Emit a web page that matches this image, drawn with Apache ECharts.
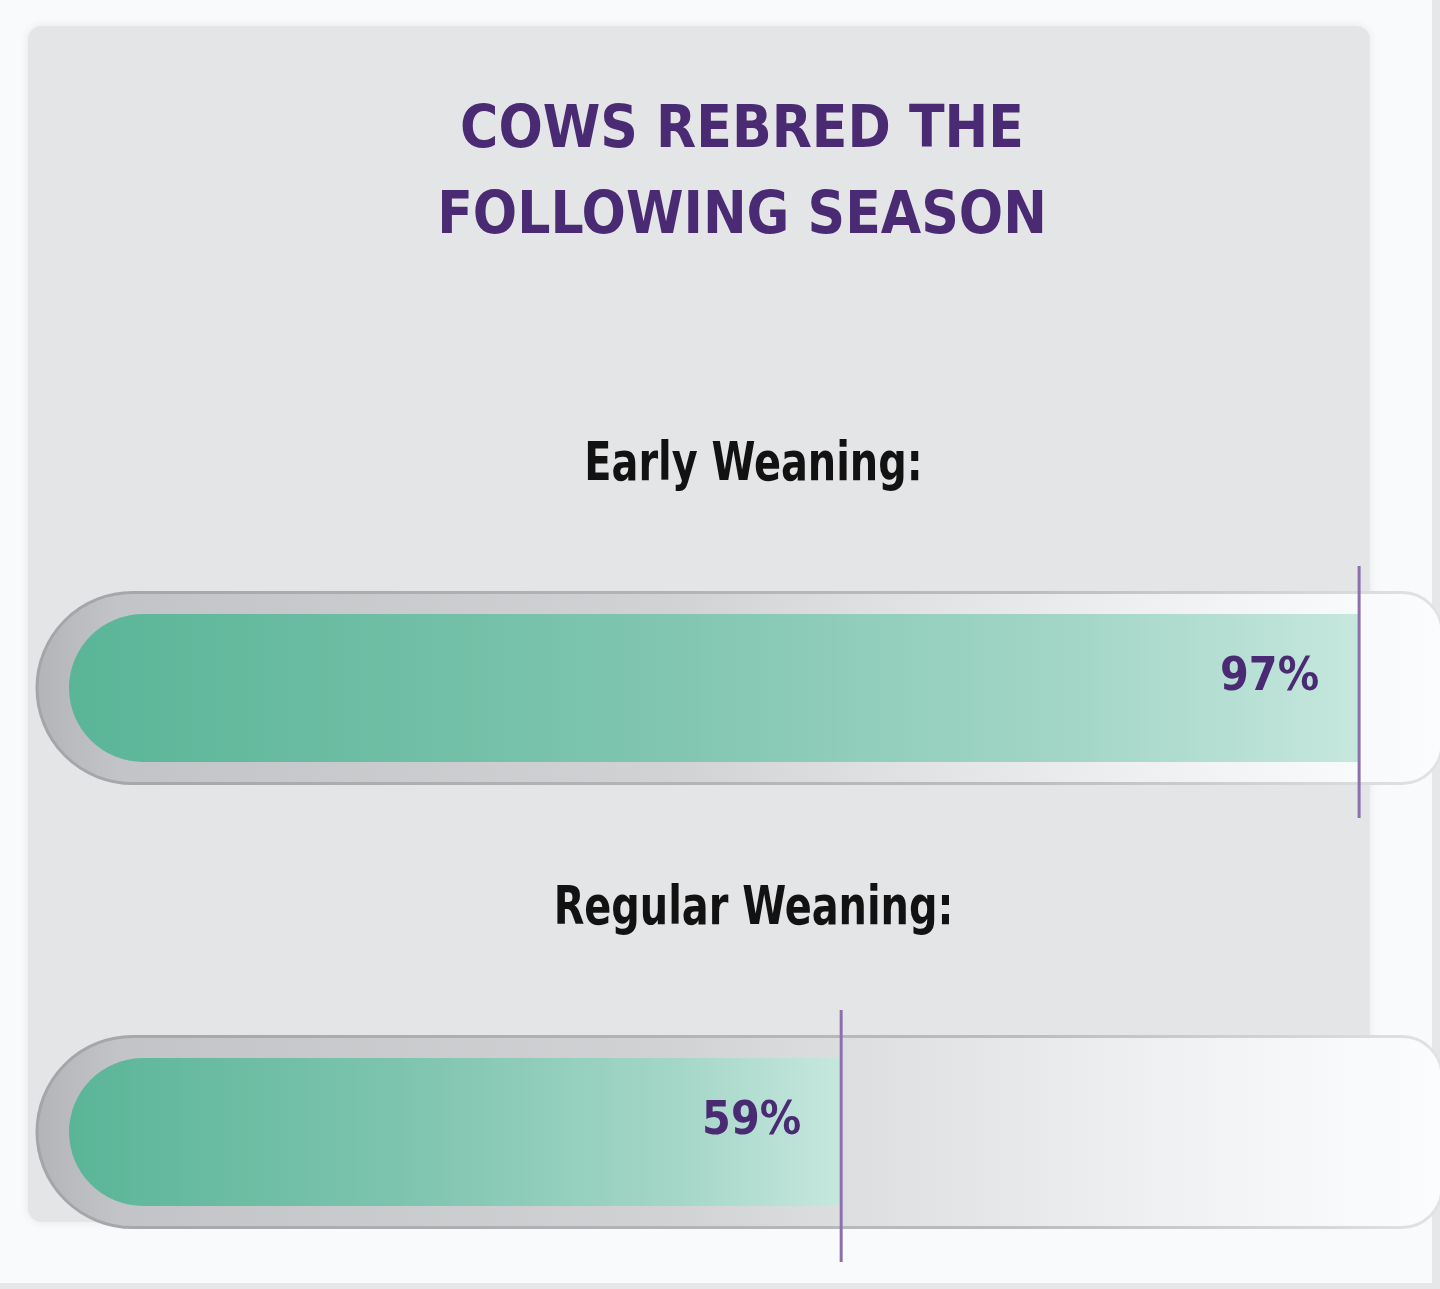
<!DOCTYPE html>
<html>

<head>
    <meta charset="utf-8">
    <title>Cows rebred the following season</title>
    <script src="https://cdn.jsdelivr.net/npm/echarts@6/dist/echarts.min.js"></script>
    <style>
        html, body {
            margin: 0;
            padding: 0;
            background: #f9fafc;
        }
        #main {
            width: 1440px;
            height: 1289px;
        }
    </style>
</head>

<body>
    <div id="main"></div>
    <script type="text/javascript">
        // data
        var chartTitle = 'COWS REBRED THE\nFOLLOWING SEASON';
        var categories = ['Early Weaning:', 'Regular Weaning:'];
        var rebredPct = [97, 59];
        var axisMax = 100;

        var narrowFont = "'Liberation Sans Narrow', 'DejaVu Sans Condensed', sans-serif";

        var seriesData = rebredPct.map(function (v, i) {
            return [v, categories[i]];
        });

        var myChart = echarts.init(document.getElementById('main'));

        // one group per category: track, green bar, value, end line, label
        function renderItem(params, api) {
            var val = api.value(0);
            var cat = api.value(1);
            var start = api.coord([0, cat]);
            var end = api.coord([val, cat]);
            var cy = start[1];
            var cs = params.coordSys;
            var trackRight = cs.x + cs.width + 42;

            return {
                type: 'group',
                children: [
                    {
                        type: 'rect',
                        shape: { x: start[0], y: cy - 95.5, width: trackRight - start[0], height: 191, r: [95.5, 40, 40, 95.5] },
                        style: {
                            fill: new echarts.graphic.LinearGradient(0, 0, 1, 0, [
                                { offset: 0, color: '#b3b4b8' },
                                { offset: 0.06, color: '#c3c4c7' },
                                { offset: 0.45, color: '#d1d2d4' },
                                { offset: 0.6, color: '#dfe0e2' },
                                { offset: 0.78, color: '#eeeff0' },
                                { offset: 0.93, color: '#f8f9fa' },
                                { offset: 1, color: '#fbfcfd' }
                            ]),
                            stroke: new echarts.graphic.LinearGradient(0, 0, 1, 0, [
                                { offset: 0, color: '#a4a5a9' },
                                { offset: 0.7, color: '#bbbcbf' },
                                { offset: 0.9, color: '#d4d5d8' },
                                { offset: 1, color: '#e2e3e6' }
                            ]),
                            lineWidth: 3
                        }
                    },
                    {
                        type: 'rect',
                        shape: { x: start[0] + 32, y: cy - 74, width: end[0] - start[0] - 32, height: 148, r: [74, 0, 0, 74] },
                        style: {
                            fill: new echarts.graphic.LinearGradient(0, 0, 1, 0, [
                                { offset: 0, color: '#5ab597' },
                                { offset: 0.45, color: '#7fc5af' },
                                { offset: 0.78, color: '#a3d6c7' },
                                { offset: 1, color: '#c6e7de' }
                            ])
                        }
                    },
                    {
                        type: 'text',
                        x: end[0] - 40,
                        y: cy - 10,
                        style: {
                            text: val + '%',
                            align: 'right',
                            verticalAlign: 'middle',
                            font: 'bold 46px ' + narrowFont,
                            fill: '#4b2a74'
                        }
                    },
                    {
                        type: 'line',
                        shape: { x1: end[0], y1: cy - 122, x2: end[0], y2: cy + 130 },
                        style: { stroke: '#8d70aa', lineWidth: 3 }
                    },
                    {
                        type: 'text',
                        x: cs.x + cs.width / 2 + 35,
                        y: cy - 222,
                        scaleX: 0.82,
                        style: {
                            text: categories[cat],
                            align: 'center',
                            verticalAlign: 'middle',
                            font: 'bold 54px ' + narrowFont,
                            fill: '#121212'
                        }
                    }
                ]
            };
        }

        var option = {
            backgroundColor: '#f9fafc',
            animation: false,
            graphic: [
                // grey card
                {
                    type: 'rect',
                    z: -10,
                    shape: { x: 28, y: 26, width: 1342, height: 1196, r: 14 },
                    style: { fill: '#e4e5e7', shadowBlur: 10, shadowColor: 'rgba(0,0,0,0.08)' }
                },
                // outer frame edges
                {
                    type: 'rect',
                    z: -10,
                    shape: { x: 1432, y: 0, width: 8, height: 1289 },
                    style: { fill: '#e6e7e9' }
                },
                {
                    type: 'rect',
                    z: -10,
                    shape: { x: 0, y: 1283, width: 1440, height: 6 },
                    style: { fill: '#e6e7e9' }
                },
                {
                    type: 'text',
                    x: 742,
                    y: 175,
                    style: {
                        text: chartTitle,
                        align: 'center',
                        verticalAlign: 'middle',
                        lineHeight: 86,
                        font: 'bold 58px ' + narrowFont,
                        fill: '#4a2a72'
                    }
                }
            ],
            grid: {
                left: 37,
                width: 1363,
                top: 466,
                height: 888,
                outerBoundsMode: 'none'
            },
            xAxis: {
                type: 'value',
                min: 0,
                max: axisMax,
                show: false
            },
            yAxis: {
                type: 'category',
                data: categories,
                inverse: true,
                show: false
            },
            series: [
                {
                    type: 'custom',
                    renderItem: renderItem,
                    encode: { x: 0, y: 1 },
                    data: seriesData
                }
            ]
        };

        myChart.setOption(option);
    </script>
</body>

</html>
